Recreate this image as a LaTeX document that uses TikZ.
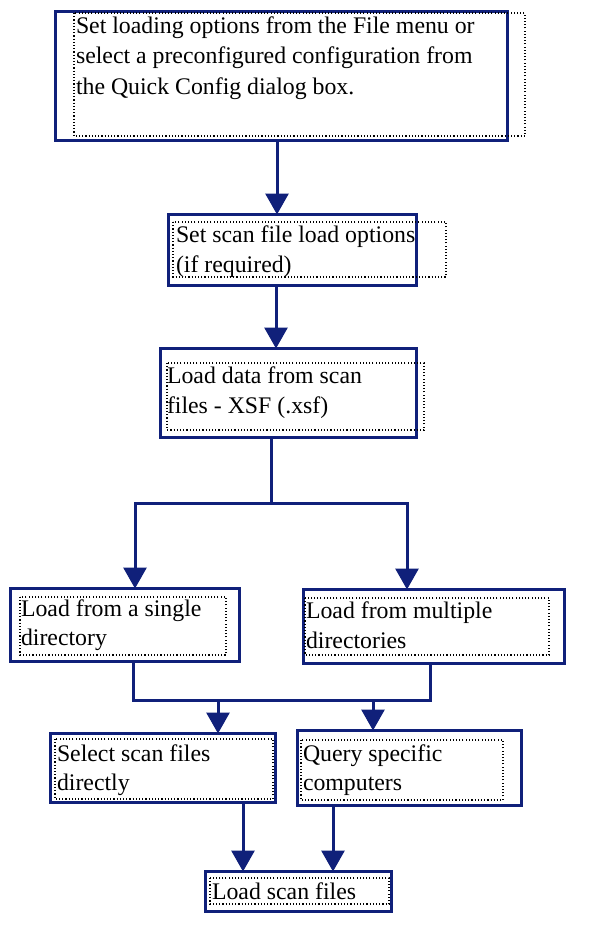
\documentclass[tikz,border=0pt]{standalone}
\usepackage{fontspec}
\setmainfont{Liberation Serif}
\usetikzlibrary{arrows.meta}
\definecolor{navy}{RGB}{16,32,122}
\begin{document}
\begin{tikzpicture}[x=1pt,y=-1pt,
  box/.style={draw=navy, line width=3pt, fill=white, rectangle, inner sep=0pt, outer sep=0pt},
  dotbox/.style={draw=black, line width=1.1pt, dash pattern=on 1.1pt off 2.1pt},
  txt/.style={anchor=base west, inner sep=0pt, outer sep=0pt, font=\fontsize{23.8pt}{30pt}\selectfont, text=black},
  conn/.style={draw=navy, line width=3pt},
  arr/.style={conn, -{Triangle[width=23pt,length=21pt]}}]
\fill[white] (0,0) rectangle (613,927);
\useasboundingbox (0,0) rectangle (613,927);

% solid boxes
\node[box, minimum width=452pt, minimum height=129pt] (b1) at (281.5,75.5) {};
\node[box, minimum width=248pt, minimum height=71pt]  (b2) at (292.5,250) {};
\node[box, minimum width=256pt, minimum height=89pt]  (b3) at (288.5,393) {};
\node[box, minimum width=229pt, minimum height=73pt]  (b4) at (125,625) {};
\node[box, minimum width=261pt, minimum height=74pt]  (b5) at (434,626.5) {};
\node[box, minimum width=225pt, minimum height=69pt]  (b6) at (163,768) {};
\node[box, minimum width=224pt, minimum height=75pt]  (b7) at (409.5,768) {};
\node[box, minimum width=186pt, minimum height=40pt]  (b8) at (298.5,891.5) {};

% dotted text frames
\draw[dotbox] (74,13) rectangle (525,136);
\draw[dotbox] (173,222) rectangle (446,277);
\draw[dotbox] (167,363) rectangle (424,430);
\draw[dotbox] (20,597) rectangle (226,655);
\draw[dotbox] (305,598) rectangle (549,655);
\draw[dotbox] (55,739) rectangle (273,799);
\draw[dotbox] (301,740) rectangle (503,800);
\draw[dotbox] (210,878) rectangle (389,904);

% texts
\node[txt] (t1a) at (76,33) {Set loading options from the File menu or};
\node[txt] (t1b) at (76,63.5) {select a preconfigured configuration from};
\node[txt] (t1c) at (76,94) {the Quick Config dialog box.};
\node[txt] (t2a) at (176,242) {Set scan file load options};
\node[txt] (t2b) at (176,272) {(if required)};
\node[txt] (t3a) at (167,383) {Load data from scan};
\node[txt] (t3b) at (167,413) {files - XSF (.xsf)};
\node[txt] (t4a) at (21,616) {Load from a single};
\node[txt] (t4b) at (21,645) {directory};
\node[txt] (t5a) at (306,618) {Load from multiple};
\node[txt] (t5b) at (306,648) {directories};
\node[txt] (t6a) at (57,761) {Select scan files};
\node[txt] (t6b) at (57,790) {directly};
\node[txt] (t7a) at (303,761) {Query specific};
\node[txt] (t7b) at (303,790) {computers};
\node[txt] (t8a) at (212,899) {Load scan files};

% junction coordinates
\coordinate (j1) at (271,503);
\coordinate (m1) at (133,700);
\coordinate (m2) at (430,700);
\coordinate (m3) at (218,700);
\coordinate (m4) at (373,700);

% connectors
\draw[arr] (b1.south -| 277,0) -- (b2.north -| 277,0);
\draw[arr] (b2.south -| 276,0) -- (b3.north -| 276,0);
\draw[conn] (b3.south -| j1) -- (j1);
\draw[arr] (j1) -| (b4.north -| 135,0);
\draw[arr] (j1) -| (b5.north -| 407,0);
\draw[conn] (b4.south -| m1) -- (m1) -- (m2) -- (b5.south -| m2);
\draw[arr] (m3) -- (b6.north -| m3);
\draw[arr] (m4) -- (b7.north -| m4);
\draw[arr] (b6.south -| 243,0) -- (b8.north -| 243,0);
\draw[arr] (b7.south -| 333,0) -- (b8.north -| 333,0);
\end{tikzpicture}
\end{document}
